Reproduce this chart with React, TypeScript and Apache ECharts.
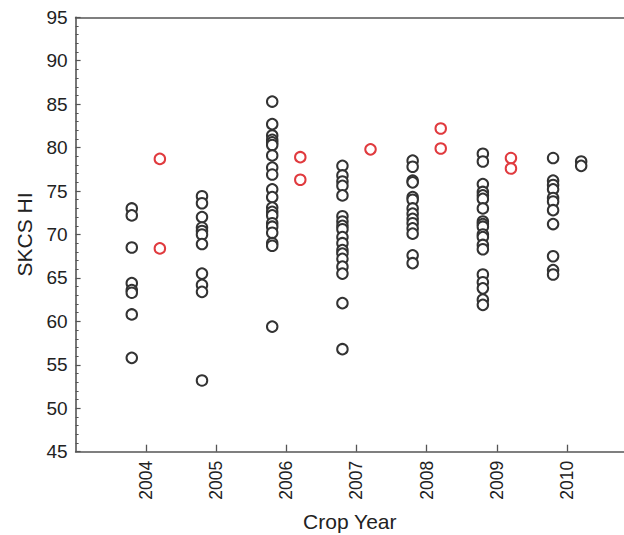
import React, { useEffect, useRef } from "react";
import * as echarts from "echarts";

const years = [2004, 2005, 2006, 2007, 2008, 2009, 2010];

const blackValues: number[][] = [
  [73.0, 72.2, 68.5, 64.4, 63.6, 63.3, 60.8, 55.8],
  [74.4, 73.6, 72.0, 70.8, 70.4, 70.0, 68.9, 65.5, 64.2, 63.4, 53.2],
  [85.3, 82.7, 81.4, 80.9, 80.6, 80.3, 79.1, 77.7, 76.9, 75.2, 74.3, 73.1, 72.6, 72.2, 71.3, 70.9, 70.2, 69.0, 68.7, 59.4],
  [77.9, 76.8, 76.1, 75.6, 74.5, 72.1, 71.5, 71.0, 70.6, 69.7, 69.0, 68.2, 67.8, 67.2, 66.3, 65.5, 62.1, 56.8],
  [78.5, 77.8, 76.2, 76.0, 74.3, 74.0, 73.0, 72.4, 71.8, 71.3, 70.7, 70.1, 67.6, 66.7],
  [79.3, 78.4, 75.8, 74.9, 74.5, 74.1, 73.0, 71.5, 71.2, 70.9, 70.0, 69.7, 68.8, 68.3, 65.4, 64.5, 63.8, 62.5, 61.9],
  [78.8, 76.2, 75.7, 75.2, 74.2, 73.8, 72.8, 71.2, 67.5, 65.9, 65.4],
];

const redValues: number[][] = [
  [78.7, 68.4],
  [],
  [78.9, 76.3],
  [79.8],
  [82.2, 79.9],
  [78.8, 77.6],
  [],
];

const blackRightValues: number[][] = [[], [], [], [], [], [], [78.4, 77.9]];

const LEFT_OFFSET = -0.2;
const RIGHT_OFFSET = 0.2;

function toPoints(values: number[][], offset: number): number[][] {
  const pts: number[][] = [];
  values.forEach((arr, i) => {
    arr.forEach((v) => pts.push([years[i] + offset, v]));
  });
  return pts;
}

const FONT = "Liberation Sans, Arial, Helvetica, sans-serif";
const AXIS_COLOR = "#555";
const TEXT_COLOR = "#222";

export default function App() {
  const ref = useRef<HTMLDivElement>(null);
  useEffect(() => {
    if (!ref.current) return;
    const chart = echarts.init(ref.current, null, { renderer: "svg" });
    const circle = (color: string) => ({
      type: "scatter" as const,
      xAxisIndex: 0,
      yAxisIndex: 0,
      symbol: "emptyCircle",
      symbolSize: 10.5,
      itemStyle: { color: color, borderColor: color, borderWidth: 1, opacity: 1 },
      emphasis: { disabled: true },
      z: 3,
    });
    chart.setOption({
      animation: false,
      textStyle: { fontFamily: FONT },
      grid: {
        left: 75.6,
        right: 0,
        top: 17.3,
        bottom: 535 - 451.7,
        containLabel: false,
        outerBoundsMode: "none",
      },
      xAxis: [
        {
          type: "value",
          min: 2003,
          max: 2010.81,
          interval: 1,
          name: "Crop Year",
          nameLocation: "middle",
          nameGap: 59,
          nameTextStyle: { fontSize: 21, color: TEXT_COLOR, fontFamily: FONT },
          axisLine: { show: true, lineStyle: { color: AXIS_COLOR, width: 1.6 } },
          axisTick: { show: true, inside: true, length: 7, lineStyle: { color: AXIS_COLOR, width: 1.3 } },
          splitLine: { show: false },
          axisLabel: {
            rotate: 90,
            fontSize: 17.5,
            color: TEXT_COLOR,
            fontFamily: FONT,
            margin: 9,
            showMinLabel: false,
            showMaxLabel: false,
            formatter: (v: number) => (years.indexOf(Math.round(v)) >= 0 && Math.abs(v - Math.round(v)) < 1e-6 ? String(Math.round(v)) : ""),
          },
        },
        {
          type: "value",
          position: "top",
          min: 2003,
          max: 2010.81,
          interval: 1,
          axisLine: { show: true, lineStyle: { color: AXIS_COLOR, width: 1.6 } },
          axisTick: { show: false },
          axisLabel: { show: false },
          splitLine: { show: false },
        },
      ],
      yAxis: {
        type: "value",
        min: 45,
        max: 95,
        interval: 5,
        name: "SKCS HI",
        nameLocation: "middle",
        nameGap: 41,
        nameTextStyle: { fontSize: 21, color: TEXT_COLOR, fontFamily: FONT },
        axisLine: { show: true, lineStyle: { color: AXIS_COLOR, width: 1.6 } },
        axisTick: { show: true, inside: true, length: 5, lineStyle: { color: AXIS_COLOR, width: 1.2 } },
        minorTick: { show: true, splitNumber: 5, length: 3, lineStyle: { color: AXIS_COLOR, width: 1 } },
        splitLine: { show: false },
        axisLabel: { fontSize: 19, color: TEXT_COLOR, fontFamily: FONT, margin: 8 },
      },
      series: [
        { ...circle("#333333"), name: "black", data: toPoints(blackValues, LEFT_OFFSET) },
        { ...circle("#333333"), name: "blackRight", data: toPoints(blackRightValues, RIGHT_OFFSET) },
        { ...circle("#e03a3e"), name: "red", data: toPoints(redValues, RIGHT_OFFSET) },
      ],
    });
    return () => chart.dispose();
  }, []);
  return (
    <div
      ref={ref}
      style={{ position: "fixed", left: 0, top: 0, width: 624, height: 535, background: "#fff" }}
    />
  );
}
